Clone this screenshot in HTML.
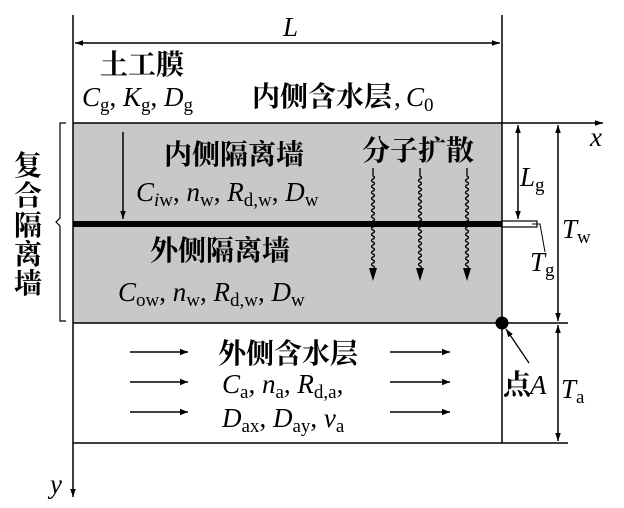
<!DOCTYPE html>
<html><head><meta charset="utf-8"><style>
html,body{margin:0;padding:0;background:#fff}
svg{display:block}
.cn{font-family:"Noto Serif CJK SC","Noto Sans CJK SC",serif;font-size:28px;font-weight:bold;fill:#000}
.it{font-family:"Liberation Serif",serif;font-style:italic;font-size:27px}
.sb{font-family:"Liberation Serif",serif;font-style:normal;font-size:19px}
.si{font-family:"Liberation Serif",serif;font-style:italic;font-size:19px}
.tx{font-family:"Liberation Serif","Noto Serif CJK SC",serif;font-size:27px}
</style></head><body>
<svg width="624" height="508" viewBox="0 0 624 508" xmlns="http://www.w3.org/2000/svg">
<defs>
<marker id="ah" viewBox="0 0 10 10" refX="10" refY="5" markerWidth="8" markerHeight="9" markerUnits="userSpaceOnUse" orient="auto-start-reverse"><path d="M0,1.5 L10,5 L0,8.5 z" fill="#000"/></marker>
<marker id="ah2" viewBox="0 0 10 10" refX="10" refY="5" markerWidth="16" markerHeight="8" markerUnits="userSpaceOnUse" orient="auto"><path d="M0,1 L10,5 L0,9 z" fill="#000"/></marker>
<path id="wv" d="M0 0 v8 q3 1.5 0 3 q-3 1.5 0 3 q3 1.5 0 3 q-3 1.5 0 3 q3 1.5 0 3 q-3 1.5 0 3 q3 1.5 0 3 q-3 1.5 0 3 q3 1.5 0 3 q-3 1.5 0 3 q3 1.5 0 3 q-3 1.5 0 3 q3 1.5 0 3 q-3 1.5 0 3 q3 1.5 0 3 q-3 1.5 0 3 q3 1.5 0 3 q-3 1.5 0 3 q3 1.5 0 3 q-3 1.5 0 3 q3 1.5 0 3 q-3 1.5 0 3 q3 1.5 0 3 q-3 1.5 0 3 q3 1.5 0 3 q-3 1.5 0 3 q3 1.5 0 3 q-3 1.5 0 3 q3 1.5 0 3 q-3 1.5 0 3 q3 1.5 0 3 q-3 1.5 0 3 v6" fill="none" stroke="#000" stroke-width="1.3"/>
</defs>
<rect x="73" y="123" width="429" height="200" fill="#c8c8c8"/>
<g stroke="#000" stroke-width="1.5" fill="none">
<line x1="73" y1="15" x2="73" y2="497" marker-end="url(#ah)"/>
<line x1="502" y1="15" x2="502" y2="443"/>
<line x1="75" y1="43" x2="500" y2="43" marker-start="url(#ah)" marker-end="url(#ah)"/>
<line x1="73" y1="123" x2="603" y2="123" marker-end="url(#ah)"/>
<line x1="73" y1="323" x2="568" y2="323"/>
<line x1="73" y1="443" x2="568" y2="443"/>
<line x1="518" y1="125" x2="518" y2="219" marker-start="url(#ah)" marker-end="url(#ah)"/>
<line x1="558" y1="125" x2="558" y2="321" marker-start="url(#ah)" marker-end="url(#ah)"/>
<line x1="558" y1="325" x2="558" y2="441" marker-start="url(#ah)" marker-end="url(#ah)"/>
<line x1="123" y1="132" x2="123" y2="219" marker-end="url(#ah)"/>
<rect x="502" y="221" width="35" height="6" stroke-width="1.2"/>
<polyline points="545,252 540,224 532,224" stroke-width="1"/>
<line x1="529" y1="363" x2="506" y2="329" stroke-width="1.3" marker-end="url(#ah)"/>
<path d="M66 123 h-6 v95 l-4 4 l4 4 v95 h6" stroke-width="1.2"/>
<line x1="130" y1="352" x2="188" y2="352" marker-end="url(#ah2)"/>
<line x1="130" y1="382" x2="188" y2="382" marker-end="url(#ah2)"/>
<line x1="130" y1="412" x2="188" y2="412" marker-end="url(#ah2)"/>
<line x1="390" y1="352" x2="450" y2="352" marker-end="url(#ah2)"/>
<line x1="390" y1="382" x2="450" y2="382" marker-end="url(#ah2)"/>
<line x1="390" y1="412" x2="450" y2="412" marker-end="url(#ah2)"/>
</g>
<rect x="73" y="221" width="429" height="6" fill="#000"/>
<circle cx="502" cy="323" r="6.5" fill="#000"/>
<use href="#wv" x="373" y="168"/>
<use href="#wv" x="420" y="168"/>
<use href="#wv" x="467" y="168"/>
<path d="M369 268 l4 13 l4 -13 z M416 268 l4 13 l4 -13 z M463 268 l4 13 l4 -13 z" fill="#000"/>
<text class="it" x="283" y="36">L</text>
<text class="cn" x="100" y="74">土工膜</text>
<text class="tx" x="82" y="106"><tspan class="it">C</tspan><tspan class="sb" dy="5">g</tspan><tspan dy="-5">, </tspan><tspan class="it">K</tspan><tspan class="sb" dy="5">g</tspan><tspan dy="-5">, </tspan><tspan class="it">D</tspan><tspan class="sb" dy="5">g</tspan></text>
<text class="cn" x="252" y="106">内侧含水层</text>
<text class="tx" x="394" y="106">, </text>
<text class="tx" x="406" y="106"><tspan class="it">C</tspan><tspan class="sb" dy="5">0</tspan></text>
<text class="cn" x="164" y="164">内侧隔离墙</text>
<text class="cn" x="362" y="160">分子扩散</text>
<text class="tx" x="136" y="201"><tspan class="it">C</tspan><tspan class="si" dy="5">i</tspan><tspan class="sb">w</tspan><tspan dy="-5">, </tspan><tspan class="it">n</tspan><tspan class="sb" dy="5">w</tspan><tspan dy="-5">, </tspan><tspan class="it">R</tspan><tspan class="sb" dy="5">d,w</tspan><tspan dy="-5">, </tspan><tspan class="it">D</tspan><tspan class="sb" dy="5">w</tspan></text>
<text class="cn" x="150" y="260">外侧隔离墙</text>
<text class="tx" x="118" y="301"><tspan class="it">C</tspan><tspan class="sb" dy="5">ow</tspan><tspan dy="-5">, </tspan><tspan class="it">n</tspan><tspan class="sb" dy="5">w</tspan><tspan dy="-5">, </tspan><tspan class="it">R</tspan><tspan class="sb" dy="5">d,w</tspan><tspan dy="-5">, </tspan><tspan class="it">D</tspan><tspan class="sb" dy="5">w</tspan></text>
<text class="cn" x="218" y="363">外侧含水层</text>
<text class="tx" x="222" y="393"><tspan class="it">C</tspan><tspan class="sb" dy="5">a</tspan><tspan dy="-5">, </tspan><tspan class="it">n</tspan><tspan class="sb" dy="5">a</tspan><tspan dy="-5">, </tspan><tspan class="it">R</tspan><tspan class="sb" dy="5">d,a</tspan><tspan dy="-5">,</tspan></text>
<text class="tx" x="222" y="427"><tspan class="it">D</tspan><tspan class="sb" dy="5">ax</tspan><tspan dy="-5">, </tspan><tspan class="it">D</tspan><tspan class="sb" dy="5">ay</tspan><tspan dy="-5">, </tspan><tspan class="it">v</tspan><tspan class="sb" dy="5">a</tspan></text>
<text class="cn" x="503" y="394">点</text><text class="it" x="530" y="394">A</text>
<text class="tx" x="561" y="398"><tspan class="it">T</tspan><tspan class="sb" dy="5">a</tspan></text>
<text class="tx" x="562" y="238"><tspan class="it">T</tspan><tspan class="sb" dy="5">w</tspan></text>
<text class="tx" x="530" y="271"><tspan class="it">T</tspan><tspan class="sb" dy="5">g</tspan></text>
<text class="tx" x="520" y="186"><tspan class="it">L</tspan><tspan class="sb" dy="5">g</tspan></text>
<text class="it" x="590" y="146">x</text>
<text class="it" x="50" y="493">y</text>
<text class="cn" x="14" y="175">复</text>
<text class="cn" x="14" y="205">合</text>
<text class="cn" x="14" y="235">隔</text>
<text class="cn" x="14" y="264">离</text>
<text class="cn" x="14" y="293">墙</text>
</svg>
</body></html>
